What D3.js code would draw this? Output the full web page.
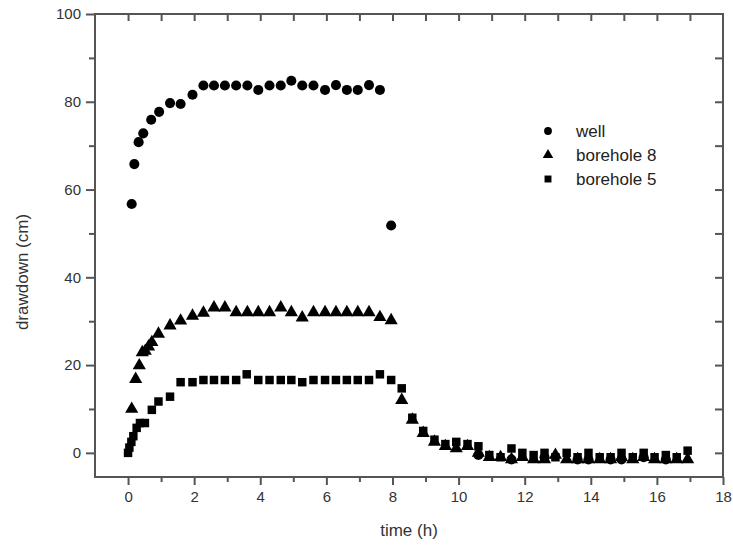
<!DOCTYPE html>
<html>
<head>
<meta charset="utf-8">
<script src="https://cdn.jsdelivr.net/npm/d3@7"></script>
<style>
  body { margin: 0; background: #fff; }
  text { font-family: "Liberation Sans", Arial, sans-serif; }
</style>
</head>
<body>
<svg id="chart"></svg>
<script>
// readings (time in h, drawdown in cm)
var wellT = [0.11, 0.19, 0.32, 0.46, 0.7, 0.94, 1.27, 1.59, 1.95, 2.28, 2.6, 2.93, 3.27, 3.61, 3.94,
             4.28, 4.62, 4.94, 5.27, 5.61, 5.96, 6.29, 6.62, 6.95, 7.29, 7.62, 7.96,
             10.6, 11.6, 12.6, 13.6, 13.93, 14.6, 14.93, 15.6, 16.27];
var wellV = [56.7, 65.8, 70.8, 72.8, 75.9, 77.7, 79.7, 79.5, 81.6, 83.7, 83.7, 83.7, 83.7, 83.7, 82.7,
             83.7, 83.7, 84.8, 83.7, 83.7, 82.7, 83.8, 82.7, 82.7, 83.8, 82.7, 51.8,
             -0.5, -1.5, -1, -1.5, -1.5, -1.5, -1.5, -1, -1.5];

var bh8T = [0.11, 0.23, 0.34, 0.43, 0.52, 0.62, 0.72, 0.92, 1.27, 1.59, 1.95, 2.28, 2.6, 2.93, 3.27,
            3.61, 3.94, 4.28, 4.62, 4.94, 5.27, 5.61, 5.96, 6.29, 6.62, 6.95, 7.29, 7.62, 7.96,
            8.28, 8.6, 8.93, 9.27, 9.6, 9.93, 10.27, 10.6, 10.93, 11.27, 11.6, 11.93, 12.27, 12.6,
            12.93, 13.27, 13.6, 13.93, 14.27, 14.6, 14.93, 15.27, 15.6, 15.93, 16.27, 16.6, 16.93];
var bh8V = [10, 16.8, 19.9, 22.9, 23.2, 24.2, 25.2, 27.1, 29, 30.1, 31.2, 31.9, 33.1, 33.1, 32,
            32, 32, 32, 33.1, 32, 30.8, 32, 32, 32, 32, 32, 32, 30.9, 30.2,
            12, 7.5, 4.5, 2.5, 1.5, 1, 1.5, 0, -1, -1, -1.5, -1, -1.5, -1.5,
            -0.5, -1.5, -1.5, -1.5, -1.5, -1.5, -1, -1.5, -1, -1.5, -1.5, -1.5, -1.5];

var bh5T = [0, 0.04, 0.1, 0.16, 0.26, 0.36, 0.51, 0.72, 0.92, 1.27, 1.59, 1.95, 2.28, 2.6, 2.93,
            3.27, 3.59, 3.94, 4.28, 4.62, 4.94, 5.27, 5.61, 5.96, 6.29, 6.62, 6.95, 7.29, 7.62, 7.96,
            8.28, 8.6, 8.93, 9.27, 9.6, 9.93, 10.27, 10.6, 10.93, 11.27, 11.6, 11.93, 12.27, 12.6,
            12.93, 13.27, 13.6, 13.93, 14.27, 14.6, 14.93, 15.27, 15.6, 15.93, 16.27, 16.6, 16.93];
var bh5V = [0, 1.2, 2.5, 3.8, 5.7, 6.8, 6.8, 9.8, 11.7, 12.8, 16.1, 16.1, 16.6, 16.6, 16.6,
            16.6, 17.9, 16.6, 16.6, 16.6, 16.6, 16.1, 16.6, 16.6, 16.6, 16.6, 16.6, 16.6, 17.9, 16.6,
            14.7, 8, 5, 3, 2, 2.5, 2, 1.5, -0.5, -1, 1, 0, -0.5, 0,
            -1, 0, -1, 0, -1, -1, 0, -1, 0, -1, -0.5, -1, 0.5];

var xTicks = [0, 2, 4, 6, 8, 10, 12, 14, 16, 18];
var xTickLabels = ["0", "2", "4", "6", "8", "10", "12", "14", "16", "18"];
var yTicks = [0, 20, 40, 60, 80, 100];
var legendNames = ["well", "borehole 8", "borehole 5"];

var W = 733, H = 549;
var svg = d3.select("#chart").attr("width", W).attr("height", H);

var x = d3.scaleLinear().domain([-1, 18]).range([95, 723]);
var y = d3.scaleLinear().domain([-5.5, 100]).range([477, 14]);

var axisCol = "#555";
var textCol = "#333";

// frame
svg.append("rect")
   .attr("x", x(-1)).attr("y", y(100))
   .attr("width", x(18) - x(-1)).attr("height", y(-5.5) - y(100))
   .attr("fill", "none").attr("stroke", axisCol).attr("stroke-width", 2);

function styleAxis(g) {
  g.select(".domain").remove();
  g.selectAll("line").attr("stroke", axisCol).attr("stroke-width", 2);
  g.selectAll("text").attr("fill", textCol).style("font-size", "15px");
}

// bottom: major outside + minor
var minorX = d3.range(-1, 18, 2);
svg.append("g").attr("transform", "translate(0," + y(-5.5) + ")")
   .call(d3.axisBottom(x).tickValues(xTicks).tickSizeInner(8).tickSizeOuter(0).tickPadding(6)
         .tickFormat(function(d, i) { return xTickLabels[i]; }))
   .call(styleAxis);
svg.append("g").attr("transform", "translate(0," + y(-5.5) + ")")
   .call(d3.axisBottom(x).tickValues(minorX.filter(function(d){ return d > -1; })).tickSizeInner(5).tickSizeOuter(0).tickFormat(""))
   .call(styleAxis);

// top: ticks inside at every hour
svg.append("g").attr("transform", "translate(0," + y(100) + ")")
   .call(d3.axisBottom(x).tickValues(d3.range(0, 18)).tickSizeInner(7).tickSizeOuter(0).tickFormat(""))
   .call(styleAxis);

// left
svg.append("g").attr("transform", "translate(" + x(-1) + ",0)")
   .call(d3.axisLeft(y).tickValues(yTicks).tickSizeInner(9).tickSizeOuter(0).tickPadding(5))
   .call(styleAxis);
svg.append("g").attr("transform", "translate(" + x(-1) + ",0)")
   .call(d3.axisLeft(y).tickValues([10, 30, 50, 70, 90]).tickSizeInner(6).tickSizeOuter(0).tickFormat(""))
   .call(styleAxis);

// right: inside
svg.append("g").attr("transform", "translate(" + x(18) + ",0)")
   .call(d3.axisLeft(y).tickValues(d3.range(0, 100, 10)).tickSizeInner(8).tickSizeOuter(0).tickFormat(""))
   .call(styleAxis);

// axis titles
svg.append("text").attr("x", 409).attr("y", 536).attr("text-anchor", "middle")
   .attr("fill", textCol).style("font-size", "17px").text("time (h)");
svg.append("text").attr("transform", "translate(28,272) rotate(-90)").attr("text-anchor", "middle")
   .attr("fill", textCol).style("font-size", "17px").text("drawdown (cm)");

var sym = [d3.symbolCircle, d3.symbolTriangle, d3.symbolSquare];
var sizes = [80, 75, 72];
var series = [[wellT, wellV], [bh8T, bh8V], [bh5T, bh5V]];

series.forEach(function(s, k) {
  var pts = s[0].map(function(t, i) { return {t: t, v: s[1][i]}; });
  svg.append("g").selectAll("path")
     .data(pts)
     .enter()
     .append("path")
     .attr("d", d3.symbol().type(sym[k]).size(sizes[k]))
     .attr("transform", function(d) { return "translate(" + x(d.t) + "," + y(d.v) + ")"; })
     .attr("fill", "#000");
});

// legend
var leg = svg.append("g");
legendNames.forEach(function(name, k) {
  var ly = 131 + k * 24;
  leg.append("path")
     .attr("d", d3.symbol().type(sym[k]).size(48))
     .attr("transform", "translate(548," + ly + ")")
     .attr("fill", "#000");
  leg.append("text").attr("x", 576).attr("y", ly + 6)
     .attr("fill", "#222").style("font-size", "17px").text(name);
});
</script>
</body>
</html>
